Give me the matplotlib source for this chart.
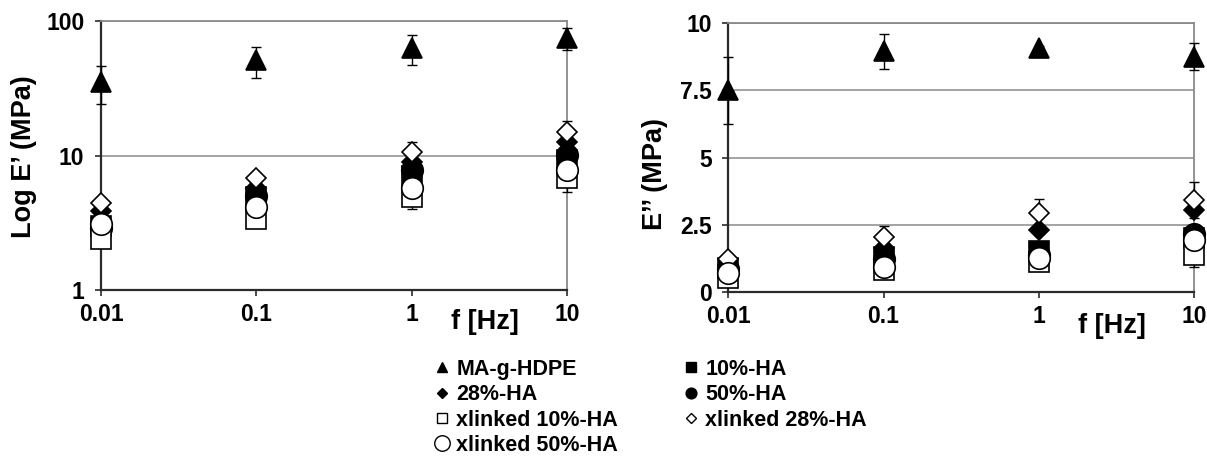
#!/usr/bin/env python3
"""Storage and loss modulus vs. frequency for HDPE/HA composites."""

import matplotlib

matplotlib.use("Agg")

import matplotlib.pyplot as plt
from matplotlib.lines import Line2D
from matplotlib.ticker import FixedLocator, FixedFormatter

FREQ = [0.01, 0.1, 1, 10]

SERIES = ["MA-g-HDPE", "10%-HA", "28%-HA", "50%-HA",
          "xlinked 10%-HA", "xlinked 28%-HA", "xlinked 50%-HA"]

# storage modulus E' (MPa)
E1_MA = [35, 51, 63, 75]
E1_10 = [3.0, 4.9, 7.0, 9.3]
E1_28 = [3.9, 5.7, 9.0, 12.6]
E1_50 = [2.9, 5.0, 7.8, 10.1]
E1_X10 = [2.4, 3.35, 4.9, 6.8]
E1_X28 = [4.45, 6.8, 10.7, 15.0]
E1_X50 = [3.1, 4.15, 5.7, 7.8]
E1_MA_ERR = [11, 13, 15.5, 14]
E1_X10_ERR = [0.2, 0.3, 0.9, 1.45]
E1_X28_ERR = [0.3, 0.5, 2.0, 3.1]

# loss modulus E'' (MPa)
E2_MA = [7.5, 8.95, 9.07, 8.75]
E2_10 = [0.9, 1.3, 1.53, 2.0]
E2_28 = [1.0, 1.62, 2.3, 3.04]
E2_50 = [0.85, 1.2, 1.35, 2.15]
E2_X10 = [0.5, 0.8, 1.12, 1.37]
E2_X28 = [1.22, 2.03, 2.92, 3.42]
E2_X50 = [0.68, 0.93, 1.24, 1.93]
E2_MA_ERR = [1.25, 0.65, 0.1, 0.5]
E2_X10_ERR = [0.1, 0.1, 0.15, 0.44]
E2_X28_ERR = [0.2, 0.4, 0.53, 0.68]

MARKERS = {
    "MA-g-HDPE": ("^", "black", 14.4),
    "10%-HA": ("s", "black", 14.4),
    "28%-HA": ("D", "black", 10.5),
    "50%-HA": ("o", "black", 15.5),
    "xlinked 10%-HA": ("s", "white", 14.4),
    "xlinked 28%-HA": ("D", "white", 10.5),
    "xlinked 50%-HA": ("o", "white", 15.5),
}

FONT = "Liberation Sans"
GRID = "#8a8a8a"
DARK = "#2b2b2b"

plt.rcParams["font.family"] = [FONT, "DejaVu Sans"]
plt.rcParams["font.weight"] = "bold"


def draw_panel(ax, values, errors):
    for name, err in errors.items():
        ax.errorbar(FREQ, values[name], yerr=err, fmt="none", ecolor="black",
                    elinewidth=1.0, capsize=3.6, capthick=1.0, zorder=2.8,
                    clip_on=False)
    for idx, name in enumerate(SERIES):
        marker, face, size = MARKERS[name]
        ax.plot(FREQ, values[name], ls="none", marker=marker, ms=size,
                mfc=face, mec="black", mew=1.2, zorder=3 + idx, clip_on=False)

    ax.set_xscale("log")
    ax.set_xlim(0.01, 10)
    ax.xaxis.set_major_locator(FixedLocator(FREQ))
    ax.xaxis.set_major_formatter(FixedFormatter(["0.01", "0.1", "1", "10"]))
    ax.xaxis.set_minor_locator(FixedLocator([]))
    ax.grid(axis="y", color=GRID, lw=1.1)
    ax.set_axisbelow(True)
    for side in ("left", "bottom"):
        ax.spines[side].set_color(DARK)
        ax.spines[side].set_linewidth(1.6)
    for side in ("top", "right"):
        ax.spines[side].set_color(GRID)
        ax.spines[side].set_linewidth(1.3)
    ax.tick_params(axis="both", which="major", direction="out", length=4.5,
                   width=1.2, color=DARK, labelsize=16.5)
    ax.tick_params(axis="x", pad=5)
    ax.tick_params(axis="y", pad=7.5)
    ax.tick_params(axis="both", which="minor", length=0)
    for lab in ax.get_xticklabels() + ax.get_yticklabels():
        lab.set_fontweight("bold")


fig = plt.figure(figsize=(12.07, 4.59), dpi=100)
ax1 = fig.add_axes([0.0837, 0.3682, 0.3861, 0.586])
ax2 = fig.add_axes([0.6034, 0.3645, 0.3858, 0.5847])

draw_panel(
    ax1,
    dict(zip(SERIES, [E1_MA, E1_10, E1_28, E1_50, E1_X10, E1_X28, E1_X50])),
    {"MA-g-HDPE": E1_MA_ERR, "xlinked 10%-HA": E1_X10_ERR,
     "xlinked 28%-HA": E1_X28_ERR},
)
ax1.set_yscale("log")
ax1.set_ylim(1, 100)
ax1.yaxis.set_major_locator(FixedLocator([1, 10, 100]))
ax1.yaxis.set_major_formatter(FixedFormatter(["1", "10", "100"]))
ax1.yaxis.set_minor_locator(FixedLocator([]))
ax1.set_ylabel("Log E\u2019 (MPa)", fontsize=19.5, fontweight="bold", va="center")
ax1.yaxis.set_label_coords(-0.166, 0.494)
ax1.text(0.824, -0.118, "f [Hz]", transform=ax1.transAxes, fontsize=19.5,
         fontweight="bold", ha="center", va="center")

draw_panel(
    ax2,
    dict(zip(SERIES, [E2_MA, E2_10, E2_28, E2_50, E2_X10, E2_X28, E2_X50])),
    {"MA-g-HDPE": E2_MA_ERR, "xlinked 10%-HA": E2_X10_ERR,
     "xlinked 28%-HA": E2_X28_ERR},
)
ax2.set_ylim(0, 10)
ax2.yaxis.set_major_locator(FixedLocator([0, 2.5, 5, 7.5, 10]))
ax2.yaxis.set_major_formatter(FixedFormatter(["0", "2.5", "5", "7.5", "10"]))
ax2.set_ylabel("E\u2019\u2019 (MPa)", fontsize=19.5, fontweight="bold", va="center")
ax2.yaxis.set_label_coords(-0.157, 0.44)
ax2.text(0.823, -0.128, "f [Hz]", transform=ax2.transAxes, fontsize=19.5,
         fontweight="bold", ha="center", va="center")

# legend laid out column-major so it reads row by row
legend_order = ["MA-g-HDPE", "28%-HA", "xlinked 10%-HA", "xlinked 50%-HA",
                "10%-HA", "50%-HA", "xlinked 28%-HA"]
handles = []
for name in legend_order:
    marker, face, size = MARKERS[name]
    scale = 0.72 if name == "xlinked 50%-HA" else 0.5
    handles.append(Line2D([], [], ls="none", marker=marker, ms=size * scale,
                          mfc=face, mec="black", mew=1.0))
fig.legend(handles, legend_order, loc="upper left",
           bbox_to_anchor=(433.7 / 1207, 1 - 359 / 459), ncol=2,
           frameon=False, handlelength=0.75, handletextpad=0.3,
           columnspacing=3.0, labelspacing=0.2, borderpad=0,
           borderaxespad=0, prop={"family": FONT, "weight": "bold", "size": 15.5})

fig.savefig("out.png", dpi=100)
